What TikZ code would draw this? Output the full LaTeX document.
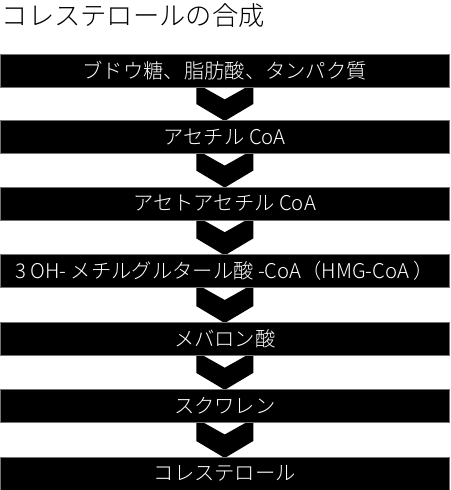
\documentclass[tikz,border=0pt]{standalone}
\usepackage{fontspec}
\IfFontExistsTF{Noto Sans CJK JP Light}{\setmainfont{Noto Sans CJK JP Light}}{\setmainfont{Noto Sans CJK JP}}
\usetikzlibrary{calc,backgrounds}
\tikzset{
  bar/.style={rectangle, fill=black, draw=black!55, line width=0.6pt,
    minimum width=449pt, minimum height=33pt, inner sep=0pt,
    text=white, font=\fontsize{20.3pt}{22pt}\selectfont},
  chev/.style={fill=black},
  titlestyle/.style={anchor=west, inner sep=0pt, font=\fontsize{26.3pt}{28pt}\selectfont}
}
\newcommand{\bartext}[1]{\raisebox{-2.5pt}{#1}}
\begin{document}
\begin{tikzpicture}[x=1pt,y=-1pt]
\useasboundingbox (0,0) rectangle (450,490);
\node[titlestyle] (title) at (1.5,15.5) {コレステロールの合成};
\node[bar] (b1) at (224.75,70.6) {\bartext{ブドウ糖、脂肪酸、タンパク質}};
\node[bar] (b2) at (224.75,136.8) {\bartext{アセチル CoA}};
\node[bar] (b3) at (224.75,203.4) {\bartext{アセトアセチル CoA}};
\node[bar] (b4) at (224.75,271.2) {\bartext{3 OH- メチルグルタール酸 -CoA（HMG-CoA ）}};
\node[bar] (b5) at (224.75,338.9) {\bartext{メバロン酸}};
\node[bar] (b6) at (224.75,405.7) {\bartext{スクワレン}};
\node[bar] (b7) at (224.75,473.8) {\bartext{コレステロール}};
\begin{scope}[on background layer]
\foreach \a/\b in {b1/b2,b2/b3,b3/b4,b4/b5,b5/b6,b6/b7}{
  \fill[chev] ($(\a.south)+(-28.5,-4)$) -- ($(\a.south)+(0,12)$) -- ($(\a.south)+(28.5,-4)$)
    -- ($(\b.north)+(28.5,-16)$) -- ($(\b.north)+(0,1)$) -- ($(\b.north)+(-28.5,-16)$) -- cycle;
}
\end{scope}
\end{tikzpicture}
\end{document}
